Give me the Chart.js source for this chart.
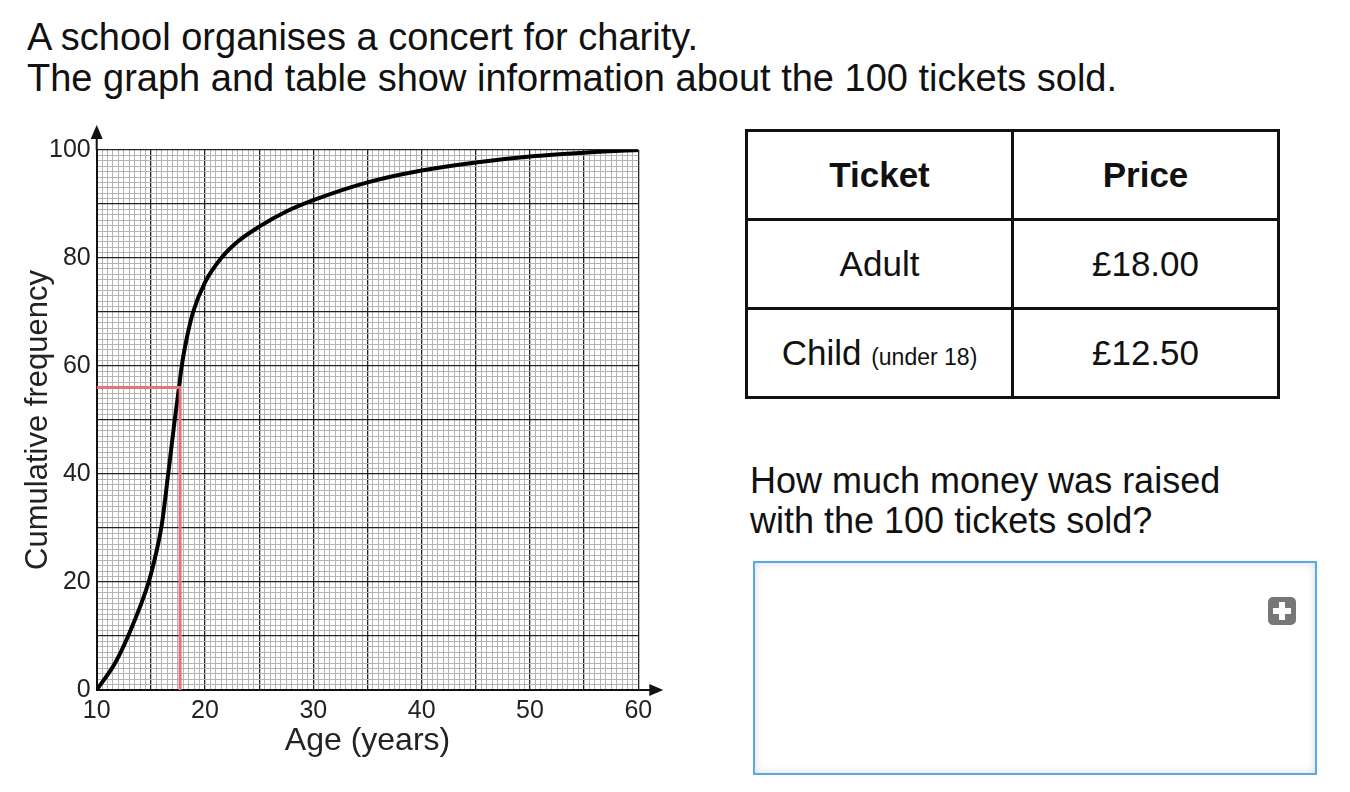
<!DOCTYPE html>
<html>
<head>
<meta charset="utf-8">
<script src="https://cdn.jsdelivr.net/npm/chart.js@4.4.0/dist/chart.umd.min.js"></script>
<style>
  body { margin: 0; background: #fff; font-family: "Liberation Sans", Arial, sans-serif; color: #111; }
  .page { position: relative; width: 1350px; height: 792px; overflow: hidden; }
  .intro { position: absolute; left: 27px; font-size: 38px; line-height: 38px; white-space: nowrap; }
  #wrap { position: absolute; left: 0; top: 110px; width: 700px; height: 680px; }
  table { position: absolute; left: 745px; top: 129px; border-collapse: collapse; }
  td { border: 3px solid #111; width: 263px; height: 86px; text-align: center; vertical-align: middle; font-size: 35px; padding: 0; }
  td.head { font-weight: bold; }
  .small { font-size: 23px; }
  .question { position: absolute; left: 750px; font-size: 36px; line-height: 36px; white-space: nowrap; }
  .answer { position: absolute; left: 753px; top: 561px; width: 560px; height: 210px; border: 2px solid #5aaae2; box-shadow: inset 0 0 8px rgba(0,0,0,0.15); background: #fff; }
  .plus { position: absolute; left: 513px; top: 34px; width: 28px; height: 28px; border-radius: 5px; background: #777; }
  .plus:before, .plus:after { content: ""; position: absolute; background: #fff; }
  .plus:before { left: 11px; top: 5px; width: 6px; height: 18px; }
  .plus:after { left: 5px; top: 11px; width: 18px; height: 6px; }
</style>
</head>
<body>
<div class="page">
  <div class="intro" style="top:18px">A school organises a concert for charity.</div>
  <div class="intro" style="top:59px">The graph and table show information about the 100 tickets sold.</div>

  <div id="wrap"><canvas id="chart"></canvas></div>

  <table>
    <tr><td class="head">Ticket</td><td class="head">Price</td></tr>
    <tr><td>Adult</td><td>£18.00</td></tr>
    <tr><td>Child <span class="small">(under 18)</span></td><td>£12.50</td></tr>
  </table>

  <div class="question" style="top:463px">How much money was raised</div>
  <div class="question" style="top:503px">with the 100 tickets sold?</div>
  <div class="answer"><div class="plus"></div></div>
</div>

<script>
// cumulative frequency curve
const ages = [10, 11.7, 12.9, 14.8, 15.5, 16, 16.6, 17.2, 17.6, 17.85, 18.3, 18.9, 20, 21.5, 23, 25, 27.5, 30, 35, 40, 45, 50, 55, 60];
const cumFreq = [0, 5, 10, 20, 25.5, 30.5, 40, 50, 56, 60, 65, 70, 75.5, 80, 83, 85.8, 88.6, 90.7, 94, 96.2, 97.7, 98.8, 99.5, 100];

// red reading lines (under 18 -> 56 children)
const readAge = [10, 17.7, 17.7];
const readFreq = [56, 56, 0];

const xLabels = [10, 20, 30, 40, 50, 60];
const yLabels = [0, 20, 40, 60, 80, 100];

const font = "'Liberation Sans', Arial, sans-serif";

// arrows on the ends of both axes
const axisArrows = {
  id: "axisArrows",
  afterDraw(chart) {
    const ctx = chart.ctx;
    const x = chart.scales.x, y = chart.scales.y;
    const x0 = x.getPixelForValue(10), y0 = y.getPixelForValue(0);
    const top = y.getPixelForValue(100), right = x.getPixelForValue(60);
    ctx.save();
    ctx.strokeStyle = "#111";
    ctx.fillStyle = "#111";
    ctx.lineWidth = 2;
    ctx.beginPath();
    ctx.moveTo(x0, top); ctx.lineTo(x0, top - 14);
    ctx.moveTo(right, y0); ctx.lineTo(right + 14, y0);
    ctx.stroke();
    ctx.beginPath();
    ctx.moveTo(x0, top - 25); ctx.lineTo(x0 - 6, top - 11); ctx.lineTo(x0 + 6, top - 11); ctx.closePath();
    ctx.fill();
    ctx.beginPath();
    ctx.moveTo(right + 25, y0); ctx.lineTo(right + 11, y0 - 6); ctx.lineTo(right + 11, y0 + 6); ctx.closePath();
    ctx.fill();
    ctx.restore();
  }
};

new Chart(document.getElementById("chart"), {
  type: "scatter",
  data: {
    datasets: [
      {
        data: readAge.map((a, i) => ({ x: a, y: readFreq[i] })),
        showLine: true,
        borderColor: "#e8727c",
        borderWidth: 3,
        pointRadius: 0,
        tension: 0,
      },
      {
        data: ages.map((a, i) => ({ x: a, y: cumFreq[i] })),
        showLine: true,
        borderColor: "#000",
        borderWidth: 4,
        pointRadius: 0,
        cubicInterpolationMode: "monotone",
      },
    ],
  },
  options: {
    responsive: true,
    maintainAspectRatio: false,
    animation: false,
    events: [],
    layout: { padding: { left: 0, right: 61.7, top: 40, bottom: 0 } },
    plugins: { legend: { display: false }, tooltip: { enabled: false } },
    scales: {
      x: {
        type: "linear",
        min: 10,
        max: 60,
        afterFit(scale) { scale.height = 100; },
        border: { display: true, color: "#111", width: 2 },
        grid: {
          drawTicks: false,
          color: (c) => (c.tick.value % 5 === 0 ? "#222" : "#b4b4b4"),
          lineWidth: (c) => (c.tick.value % 5 === 0 ? 1.3 : 1),
        },
        ticks: {
          stepSize: 0.5,
          maxTicksLimit: 1000,
          autoSkip: false,
          maxRotation: 0,
          padding: 6,
          color: "#222",
          font: { family: font, size: 25 },
          callback: (v) => (xLabels.includes(v) ? String(v) : ""),
        },
        title: {
          display: true,
          text: "Age (years)",
          color: "#222",
          font: { family: font, size: 32 },
          padding: { top: 0, bottom: 30 },
        },
      },
      y: {
        type: "linear",
        min: 0,
        max: 100,
        afterFit(scale) { scale.width = 96.7; },
        border: { display: true, color: "#111", width: 2 },
        grid: {
          drawTicks: false,
          color: (c) => (c.tick.value % 10 === 0 ? "#222" : "#b4b4b4"),
          lineWidth: (c) => (c.tick.value % 10 === 0 ? 1.3 : 1),
        },
        ticks: {
          stepSize: 1,
          maxTicksLimit: 1000,
          autoSkip: false,
          padding: 6,
          color: "#222",
          font: { family: font, size: 25 },
          callback: (v) => (yLabels.includes(v) ? String(v) : ""),
        },
        title: {
          display: true,
          text: "Cumulative frequency",
          color: "#222",
          font: { family: font, size: 31 },
          padding: { top: 20, bottom: 0 },
        },
      },
    },
  },
  plugins: [axisArrows],
});
</script>
</body>
</html>
